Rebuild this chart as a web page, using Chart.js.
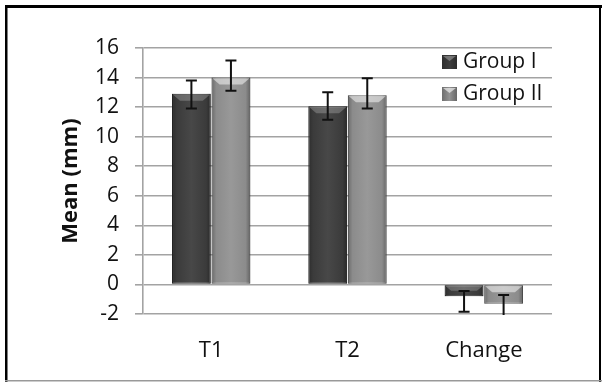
<!DOCTYPE html>
<html><head><meta charset="utf-8">
<script src="https://cdn.jsdelivr.net/npm/chart.js@4/dist/chart.umd.min.js"></script>
<style>html,body{margin:0;padding:0;background:#fff;}#wrap{position:absolute;left:0;top:0;width:602px;height:382px;}</style>
</head><body><div id="wrap"><canvas id="c" width="602" height="382"></canvas></div>
<script>
const categories = ['T1', 'T2', 'Change'];
const seriesNames = ['Group I', 'Group II'];
const group1Means = [12.9, 12.05, -0.8];
const group2Means = [14.0, 12.8, -1.3];
const group1ErrHigh = [13.8, 13.0, -0.45];
const group1ErrLow = [11.9, 11.15, -1.85];
const group2ErrHigh = [15.15, 13.95, -0.72];
const group2ErrLow = [13.1, 11.9, -2.2];
const yMin = -2, yMax = 16, yStep = 2;
const yTitle = 'Mean (mm)';

const FONT = '"Open Sans", Lato, sans-serif';
const fills = ['#3e3e3e', '#939393'];
const errHigh = [group1ErrHigh, group2ErrHigh];
const errLow = [group1ErrLow, group2ErrLow];

const decorPlugin = {
  id: 'decor',
  afterDatasetsDraw(chart) {
    const ctx = chart.ctx, area = chart.chartArea, ys = chart.scales.y;
    ctx.save();
    ctx.beginPath();
    ctx.rect(area.left, area.top - 20, area.right - area.left, area.bottom - area.top + 20);
    ctx.clip();
    chart.data.datasets.forEach((ds, di) => {
      const meta = chart.getDatasetMeta(di);
      meta.data.forEach((el, j) => {
        const p = el.getProps(['x', 'y', 'base', 'width'], true);
        const l = p.x - p.width / 2, r = p.x + p.width / 2;
        const t = Math.min(p.y, p.base), b = Math.max(p.y, p.base);
        const g = ctx.createLinearGradient(l, 0, r, 0);
        g.addColorStop(0, 'rgba(0,0,0,0.28)');
        g.addColorStop(0.12, 'rgba(0,0,0,0.05)');
        g.addColorStop(0.5, 'rgba(255,255,255,0.05)');
        g.addColorStop(0.88, 'rgba(0,0,0,0.05)');
        g.addColorStop(1, 'rgba(0,0,0,0.32)');
        ctx.fillStyle = g;
        ctx.fillRect(l, t, r - l, b - t);
        const bh = Math.min(7, (b - t) / 2);
        ctx.beginPath();
        ctx.moveTo(l + 1, t + 1);
        ctx.lineTo(r - 1, t + 1);
        ctx.lineTo(r - 1 - bh, t + bh);
        ctx.lineTo(l + 1 + bh, t + bh);
        ctx.closePath();
        ctx.fillStyle = di === 0 ? 'rgba(255,255,255,0.22)' : 'rgba(255,255,255,0.5)';
        ctx.fill();
      });
    });
    ctx.restore();
    ctx.save();
    ctx.beginPath();
    ctx.rect(area.left, 0, area.right - area.left, area.bottom + 1);
    ctx.clip();
    ctx.strokeStyle = '#111';
    ctx.lineWidth = 2;
    chart.data.datasets.forEach((ds, di) => {
      const meta = chart.getDatasetMeta(di);
      meta.data.forEach((el, j) => {
        const x = el.x;
        const yh = ys.getPixelForValue(errHigh[di][j]);
        const yl = ys.getPixelForValue(errLow[di][j]);
        ctx.beginPath();
        ctx.moveTo(x, yh); ctx.lineTo(x, yl);
        ctx.moveTo(x - 5.5, yh); ctx.lineTo(x + 5.5, yh);
        ctx.moveTo(x - 5.5, yl); ctx.lineTo(x + 5.5, yl);
        ctx.stroke();
      });
    });
    ctx.restore();
  },
  afterDraw(chart) {
    const ctx = chart.ctx;
    ctx.save();
    chart.data.datasets.forEach((ds, i) => {
      const cy = 62 + i * 32;
      const sx = 442, sy = cy - 7, sw = 15, sh = 14;
      ctx.fillStyle = fills[i];
      ctx.fillRect(sx, sy, sw, sh);
      const g = ctx.createLinearGradient(sx, 0, sx + sw, 0);
      g.addColorStop(0, 'rgba(0,0,0,0.25)');
      g.addColorStop(0.5, 'rgba(0,0,0,0)');
      g.addColorStop(1, 'rgba(0,0,0,0.3)');
      ctx.fillStyle = g;
      ctx.fillRect(sx, sy, sw, sh);
      ctx.beginPath();
      ctx.moveTo(sx + 1, sy + 1); ctx.lineTo(sx + sw - 1, sy + 1); ctx.lineTo(sx + sw / 2, sy + 6); ctx.closePath();
      ctx.fillStyle = i === 0 ? 'rgba(255,255,255,0.3)' : 'rgba(255,255,255,0.6)';
      ctx.fill();
      ctx.fillStyle = '#111';
      ctx.font = '21px ' + FONT;
      ctx.textBaseline = 'middle';
      ctx.textAlign = 'left';
      ctx.fillText(ds.label, 463, cy);
    });
    ctx.fillStyle = '#000';
    ctx.fillRect(5, 5, 597, 3);
    ctx.fillRect(5, 5, 2.5, 377);
    ctx.fillRect(599, 5, 2, 377);
    ctx.fillStyle = '#999';
    ctx.fillRect(5, 380, 597, 1.5);
    ctx.restore();
  }
};

new Chart(document.getElementById('c'), {
  type: 'bar',
  data: {
    labels: categories,
    datasets: [
      { label: seriesNames[0], data: group1Means, backgroundColor: fills[0], borderColor: '#2a2a2a', borderWidth: 1, borderSkipped: false },
      { label: seriesNames[1], data: group2Means, backgroundColor: fills[1], borderColor: '#666', borderWidth: 1, borderSkipped: false }
    ]
  },
  options: {
    responsive: false,
    animation: false,
    devicePixelRatio: 1,
    layout: { padding: { left: 0, right: 50, top: 48, bottom: 0 } },
    plugins: { legend: { display: false }, tooltip: { enabled: false } },
    datasets: { bar: { categoryPercentage: 0.58, barPercentage: 0.98 } },
    scales: {
      x: {
        grid: { display: false },
        border: { display: false },
        ticks: { color: '#111', font: { family: FONT, size: 22 }, padding: 16 },
        afterFit(s) { s.height = 68; }
      },
      y: {
        min: yMin, max: yMax,
        ticks: { stepSize: yStep, color: '#111', font: { family: FONT, size: 21 }, padding: 16 },
        grid: { color: '#a3a3a3', lineWidth: 1.6, tickLength: 8 },
        border: { display: true, color: '#a3a3a3', width: 1.6 },
        title: { display: true, text: yTitle, color: '#111', font: { family: FONT, size: 22, weight: 'bold' }, padding: { top: 58, bottom: 0 } },
        afterFit(s) { s.width = 143; }
      }
    }
  },
  plugins: [decorPlugin]
});
</script>
</body></html>
